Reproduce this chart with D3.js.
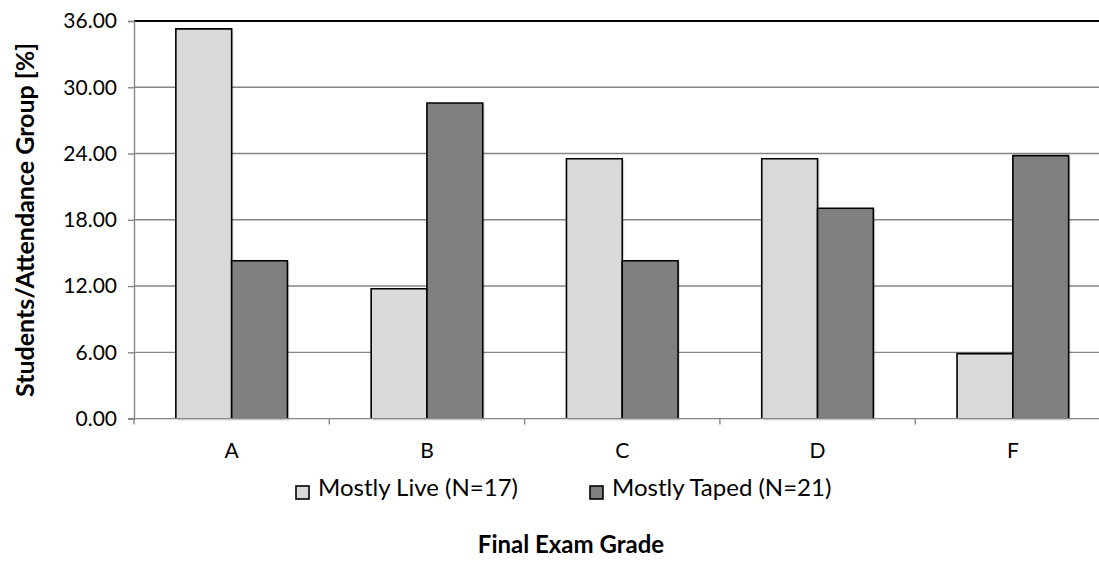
<!DOCTYPE html>
<html>
<head>
<meta charset="utf-8">
<script src="https://cdn.jsdelivr.net/npm/d3@7"></script>
<style>
  html, body { margin: 0; padding: 0; background: #fff; }
  svg { display: block; }
  text { font-family: Lato, "Open Sans", sans-serif; fill: #000; }
</style>
</head>
<body>
<svg id="chart" width="1099" height="561"></svg>
<script>
// Final exam grade distribution per attendance group (percent of group)
const grades = ["A", "B", "C", "D", "F"];
const liveValues = [35.29, 11.76, 23.53, 23.53, 5.88];    // Mostly Live (N=17)
const tapedValues = [14.29, 28.57, 14.29, 19.05, 23.81];  // Mostly Taped (N=21)
const seriesNames = ["Mostly Live (N=17)", "Mostly Taped (N=21)"];
const seriesColors = ["#d9d9d9", "#808080"];
const yTicks = [0, 6, 12, 18, 24, 30, 36];

const svg = d3.select("#chart");
const plot = { left: 134, top: 21, width: 976.5, height: 397.6 };

const x = d3.scaleBand().domain(grades)
  .range([plot.left, plot.left + plot.width]).padding(0);
const barW = x.bandwidth() / 3.5;   // two bars plus a 150% gap
const y = d3.scaleLinear().domain([0, 36]).range([plot.top + plot.height, plot.top]);

const gridColor = "#868686";

// horizontal gridlines
svg.append("g").selectAll("line")
  .data(yTicks.filter(d => d > 0 && d < 36))
  .join("line")
  .attr("x1", plot.left).attr("x2", plot.left + plot.width)
  .attr("y1", d => y(d)).attr("y2", d => y(d))
  .attr("stroke", gridColor).attr("stroke-width", 1.4);

// top border line
svg.append("line")
  .attr("x1", plot.left).attr("x2", plot.left + plot.width)
  .attr("y1", y(36)).attr("y2", y(36))
  .attr("stroke", "#000").attr("stroke-width", 2);

// y axis
const yAxis = d3.axisLeft(y).tickValues(yTicks).tickSize(6).tickPadding(11)
  .tickFormat(d3.format(".2f"));
const gy = svg.append("g").attr("transform", `translate(${plot.left},0)`).call(yAxis);
gy.select(".domain").attr("stroke", gridColor).attr("stroke-width", 1.4);
gy.selectAll(".tick line").attr("stroke", gridColor).attr("stroke-width", 1.4);
gy.selectAll(".tick text").style("font-size", "21px").attr("fill", "#000");

// bars
const groups = svg.append("g").selectAll("g")
  .data(grades.map((g, i) => ({ grade: g, vals: [liveValues[i], tapedValues[i]] })))
  .join("g");

groups.each(function (d) {
  const g = d3.select(this);
  const x0 = x(d.grade) + (x.bandwidth() - 2 * barW) / 2;
  d.vals.forEach((v, k) => {
    const bx = x0 + k * barW;
    const by = y(v);
    const base = y(0);
    // soft shadow
    g.append("rect")
      .attr("x", bx + 2).attr("y", by + 2)
      .attr("width", barW).attr("height", base - by)
      .attr("fill", "#000").attr("opacity", 0.12);
    g.append("rect")
      .attr("x", bx).attr("y", by)
      .attr("width", barW).attr("height", base - by)
      .attr("fill", seriesColors[k]);
    g.append("path")
      .attr("d", `M${bx},${base}V${by}H${bx + barW}V${base}`)
      .attr("fill", "none").attr("stroke", "#000").attr("stroke-width", 1.6);
  });
});

// x axis with boundary ticks between categories
const base = y(0);
svg.append("line")
  .attr("x1", plot.left - 6).attr("x2", plot.left + plot.width)
  .attr("y1", base).attr("y2", base)
  .attr("stroke", gridColor).attr("stroke-width", 1.4);
svg.append("g").selectAll("line")
  .data(grades.concat(["end"]))
  .join("line")
  .attr("x1", (d, i) => plot.left + i * x.bandwidth())
  .attr("x2", (d, i) => plot.left + i * x.bandwidth())
  .attr("y1", base).attr("y2", base + 6)
  .attr("stroke", gridColor).attr("stroke-width", 1.4);
svg.append("g").selectAll("text")
  .data(grades)
  .join("text")
  .attr("x", d => x(d) + x.bandwidth() / 2)
  .attr("y", 458)
  .attr("text-anchor", "middle")
  .style("font-size", "21px")
  .text(d => d);

// legend
const legend = svg.append("g");
const legendX = [296, 590];
seriesNames.forEach((name, k) => {
  legend.append("rect")
    .attr("x", legendX[k]).attr("y", 486)
    .attr("width", 13).attr("height", 13)
    .attr("fill", seriesColors[k]).attr("stroke", "#000").attr("stroke-width", 1.6);
  legend.append("text")
    .attr("x", legendX[k] + 22).attr("y", 496)
    .style("font-size", "24px")
    .text(name);
});

// axis titles
svg.append("text")
  .attr("x", 571).attr("y", 553)
  .attr("text-anchor", "middle")
  .style("font-size", "24px").style("font-weight", "bold")
  .text("Final Exam Grade");
svg.append("text")
  .attr("transform", `translate(34,220) rotate(-90)`)
  .attr("text-anchor", "middle")
  .style("font-size", "25px").style("font-weight", "bold")
  .text("Students/Attendance Group [%]");
</script>
</body>
</html>
